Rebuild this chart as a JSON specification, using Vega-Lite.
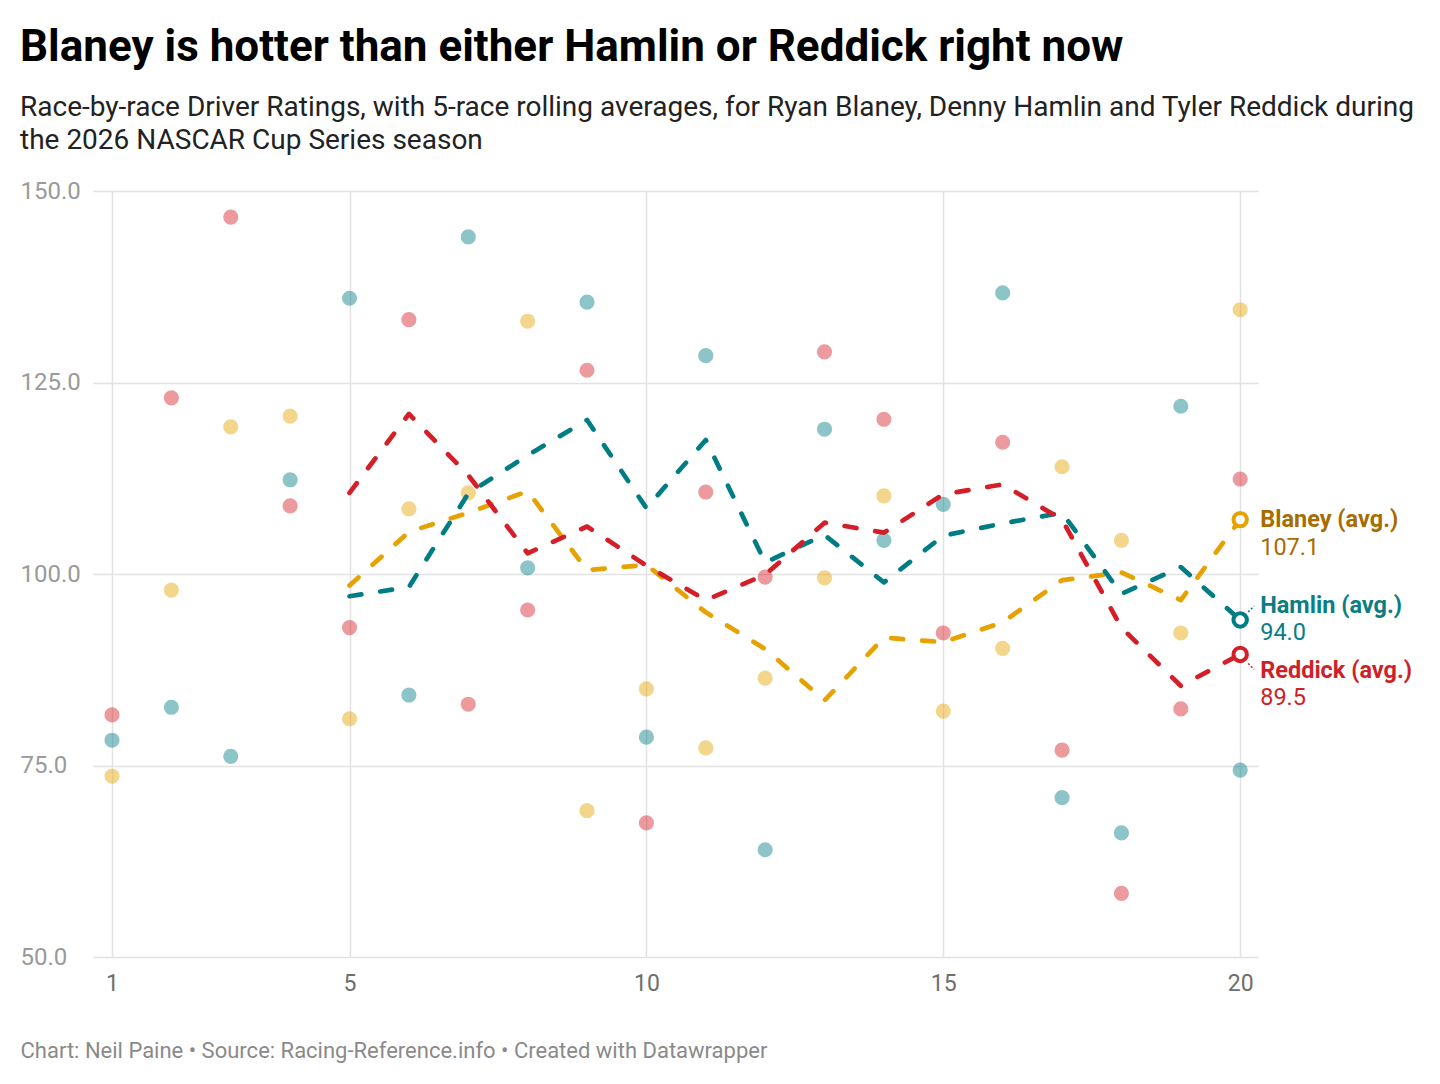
{
  "$schema": "https://vega.github.io/schema/vega-lite/v6.json",
  "width": 1165,
  "height": 766,
  "autosize": {"type": "none"},
  "padding": {"left": 93, "top": 191, "right": 182, "bottom": 127},
  "background": "#ffffff",
  "config": {
    "font": "Roboto",
    "view": {"stroke": null}
  },
  "title": {
    "text": "Blaney is hotter than either Hamlin or Reddick right now",
    "subtitle": [
      "Race-by-race Driver Ratings, with 5-race rolling averages, for Ryan Blaney, Denny Hamlin and Tyler Reddick during",
      "the 2026 NASCAR Cup Series season"
    ],
    "anchor": "start",
    "frame": "group",
    "dx": -73,
    "offset": 24,
    "font": "Roboto",
    "fontSize": 44,
    "fontWeight": "bold",
    "color": "#000000",
    "subtitleFont": "Roboto",
    "subtitleFontSize": 28,
    "subtitleColor": "#222222",
    "subtitleLineHeight": 33,
    "subtitlePadding": 24
  },
  "datasets": {
    "ratings": [
      {"race": 1, "driver": "Blaney", "rating": 73.6},
      {"race": 2, "driver": "Blaney", "rating": 97.9},
      {"race": 3, "driver": "Blaney", "rating": 119.2},
      {"race": 4, "driver": "Blaney", "rating": 120.6},
      {"race": 5, "driver": "Blaney", "rating": 81.1},
      {"race": 6, "driver": "Blaney", "rating": 108.5},
      {"race": 7, "driver": "Blaney", "rating": 110.6},
      {"race": 8, "driver": "Blaney", "rating": 133.0},
      {"race": 9, "driver": "Blaney", "rating": 69.1},
      {"race": 10, "driver": "Blaney", "rating": 85.0},
      {"race": 11, "driver": "Blaney", "rating": 77.3},
      {"race": 12, "driver": "Blaney", "rating": 86.4},
      {"race": 13, "driver": "Blaney", "rating": 99.5},
      {"race": 14, "driver": "Blaney", "rating": 110.2},
      {"race": 15, "driver": "Blaney", "rating": 82.1},
      {"race": 16, "driver": "Blaney", "rating": 90.3},
      {"race": 17, "driver": "Blaney", "rating": 114.0},
      {"race": 18, "driver": "Blaney", "rating": 104.4},
      {"race": 19, "driver": "Blaney", "rating": 92.3},
      {"race": 20, "driver": "Blaney", "rating": 134.5},
      {"race": 1, "driver": "Hamlin", "rating": 78.3},
      {"race": 2, "driver": "Hamlin", "rating": 82.6},
      {"race": 3, "driver": "Hamlin", "rating": 76.2},
      {"race": 4, "driver": "Hamlin", "rating": 112.3},
      {"race": 5, "driver": "Hamlin", "rating": 136.0},
      {"race": 6, "driver": "Hamlin", "rating": 84.2},
      {"race": 7, "driver": "Hamlin", "rating": 144.0},
      {"race": 8, "driver": "Hamlin", "rating": 100.8},
      {"race": 9, "driver": "Hamlin", "rating": 135.5},
      {"race": 10, "driver": "Hamlin", "rating": 78.7},
      {"race": 11, "driver": "Hamlin", "rating": 128.5},
      {"race": 12, "driver": "Hamlin", "rating": 64.0},
      {"race": 13, "driver": "Hamlin", "rating": 118.9},
      {"race": 14, "driver": "Hamlin", "rating": 104.4},
      {"race": 15, "driver": "Hamlin", "rating": 109.1},
      {"race": 16, "driver": "Hamlin", "rating": 136.7},
      {"race": 17, "driver": "Hamlin", "rating": 70.8},
      {"race": 18, "driver": "Hamlin", "rating": 66.2},
      {"race": 19, "driver": "Hamlin", "rating": 121.9},
      {"race": 20, "driver": "Hamlin", "rating": 74.4},
      {"race": 1, "driver": "Reddick", "rating": 81.6},
      {"race": 2, "driver": "Reddick", "rating": 123.0},
      {"race": 3, "driver": "Reddick", "rating": 146.6},
      {"race": 4, "driver": "Reddick", "rating": 108.9},
      {"race": 5, "driver": "Reddick", "rating": 93.0},
      {"race": 6, "driver": "Reddick", "rating": 133.2},
      {"race": 7, "driver": "Reddick", "rating": 83.0},
      {"race": 8, "driver": "Reddick", "rating": 95.3},
      {"race": 9, "driver": "Reddick", "rating": 126.6},
      {"race": 10, "driver": "Reddick", "rating": 67.5},
      {"race": 11, "driver": "Reddick", "rating": 110.7},
      {"race": 12, "driver": "Reddick", "rating": 99.6},
      {"race": 13, "driver": "Reddick", "rating": 129.0},
      {"race": 14, "driver": "Reddick", "rating": 120.2},
      {"race": 15, "driver": "Reddick", "rating": 92.3},
      {"race": 16, "driver": "Reddick", "rating": 117.2},
      {"race": 17, "driver": "Reddick", "rating": 77.0},
      {"race": 18, "driver": "Reddick", "rating": 58.3},
      {"race": 19, "driver": "Reddick", "rating": 82.4},
      {"race": 20, "driver": "Reddick", "rating": 112.4}
    ],
    "avg": [
      {"race": 5, "driver": "Blaney", "avg": 98.5},
      {"race": 6, "driver": "Blaney", "avg": 105.5},
      {"race": 7, "driver": "Blaney", "avg": 108.0},
      {"race": 8, "driver": "Blaney", "avg": 110.8},
      {"race": 9, "driver": "Blaney", "avg": 100.5},
      {"race": 10, "driver": "Blaney", "avg": 101.2},
      {"race": 11, "driver": "Blaney", "avg": 95.0},
      {"race": 12, "driver": "Blaney", "avg": 90.2},
      {"race": 13, "driver": "Blaney", "avg": 83.5},
      {"race": 14, "driver": "Blaney", "avg": 91.7},
      {"race": 15, "driver": "Blaney", "avg": 91.1},
      {"race": 16, "driver": "Blaney", "avg": 93.7},
      {"race": 17, "driver": "Blaney", "avg": 99.2},
      {"race": 18, "driver": "Blaney", "avg": 100.2},
      {"race": 19, "driver": "Blaney", "avg": 96.6},
      {"race": 20, "driver": "Blaney", "avg": 107.1},
      {"race": 5, "driver": "Hamlin", "avg": 97.1},
      {"race": 6, "driver": "Hamlin", "avg": 98.3},
      {"race": 7, "driver": "Hamlin", "avg": 110.5},
      {"race": 8, "driver": "Hamlin", "avg": 115.5},
      {"race": 9, "driver": "Hamlin", "avg": 120.1},
      {"race": 10, "driver": "Hamlin", "avg": 108.6},
      {"race": 11, "driver": "Hamlin", "avg": 117.5},
      {"race": 12, "driver": "Hamlin", "avg": 101.5},
      {"race": 13, "driver": "Hamlin", "avg": 105.1},
      {"race": 14, "driver": "Hamlin", "avg": 98.9},
      {"race": 15, "driver": "Hamlin", "avg": 105.0},
      {"race": 16, "driver": "Hamlin", "avg": 106.6},
      {"race": 17, "driver": "Hamlin", "avg": 108.0},
      {"race": 18, "driver": "Hamlin", "avg": 97.4},
      {"race": 19, "driver": "Hamlin", "avg": 100.9},
      {"race": 20, "driver": "Hamlin", "avg": 94.0},
      {"race": 5, "driver": "Reddick", "avg": 110.6},
      {"race": 6, "driver": "Reddick", "avg": 120.9},
      {"race": 7, "driver": "Reddick", "avg": 112.9},
      {"race": 8, "driver": "Reddick", "avg": 102.7},
      {"race": 9, "driver": "Reddick", "avg": 106.2},
      {"race": 10, "driver": "Reddick", "avg": 101.1},
      {"race": 11, "driver": "Reddick", "avg": 96.6},
      {"race": 12, "driver": "Reddick", "avg": 99.9},
      {"race": 13, "driver": "Reddick", "avg": 106.7},
      {"race": 14, "driver": "Reddick", "avg": 105.4},
      {"race": 15, "driver": "Reddick", "avg": 110.4},
      {"race": 16, "driver": "Reddick", "avg": 111.7},
      {"race": 17, "driver": "Reddick", "avg": 107.1},
      {"race": 18, "driver": "Reddick", "avg": 93.0},
      {"race": 19, "driver": "Reddick", "avg": 85.4},
      {"race": 20, "driver": "Reddick", "avg": 89.5}
    ]
  },
  "encoding": {
    "x": {
      "field": "race",
      "type": "quantitative",
      "scale": {"domain": [0.68, 20.3], "nice": false, "zero": false},
      "axis": {
        "values": [1, 5, 10, 15, 20],
        "format": "d",
        "grid": true,
        "gridColor": "#e2e2e2",
        "gridWidth": 1.5,
        "domain": false,
        "ticks": false,
        "tickSize": 0,
        "labelPadding": 15,
        "labelFont": "Roboto",
        "labelFontSize": 23,
        "labelColor": "#6e6e6e",
        "title": "Chart: Neil Paine • Source: Racing-Reference.info • Created with Datawrapper",
        "titleFont": "Roboto",
        "titleFontSize": 22,
        "titleFontWeight": "normal",
        "titleColor": "#8a8a8a",
        "titleAlign": "left",
        "titleBaseline": "middle",
        "titleAnchor": "start",
        "titleX": -73,
        "titleY": 93
      }
    },
    "color": {
      "field": "driver",
      "type": "nominal",
      "scale": {
        "domain": ["Blaney", "Hamlin", "Reddick"],
        "range": ["#e5a200", "#007d84", "#d51e28"]
      },
      "legend": null
    }
  },
  "layer": [
    {
      "data": {"name": "ratings"},
      "mark": {"type": "circle", "size": 230, "opacity": 0.45},
      "encoding": {
        "y": {
          "field": "rating",
          "type": "quantitative",
          "scale": {"domain": [50, 150], "nice": false, "zero": false},
          "axis": {
            "values": [50, 75, 100, 125, 150],
            "format": ".1f",
            "grid": true,
            "gridColor": "#e2e2e2",
            "gridWidth": 1.5,
            "domain": false,
            "ticks": false,
            "tickSize": 0,
            "labelAlign": "left",
            "labelBaseline": "middle",
            "labelPadding": 73,
            "labelFont": "Roboto",
            "labelFontSize": 24,
            "labelColor": "#9a9a9a",
            "title": null
          }
        }
      }
    },
    {
      "data": {"name": "avg"},
      "mark": {
        "type": "line",
        "strokeWidth": 4.7,
        "strokeDash": [12, 19],
        "strokeCap": "round",
        "strokeJoin": "round"
      },
      "encoding": {
        "y": {"field": "avg", "type": "quantitative"},
        "order": {"field": "race"}
      }
    },
    {
      "data": {"name": "avg"},
      "transform": [{"filter": "datum.race === 20"}],
      "mark": {"type": "circle", "size": 180, "opacity": 1, "fill": "#ffffff", "strokeWidth": 4},
      "encoding": {
        "y": {"field": "avg", "type": "quantitative"},
        "stroke": {
          "field": "driver",
          "type": "nominal",
          "scale": {
            "domain": ["Blaney", "Hamlin", "Reddick"],
            "range": ["#e5a200", "#007d84", "#d51e28"]
          },
          "legend": null
        }
      }
    },
    {
      "data": {"name": "avg"},
      "transform": [{"filter": "datum.race === 20 && datum.driver === 'Hamlin'"}],
      "mark": {"type": "rule", "strokeWidth": 1.5, "strokeDash": [2, 2], "xOffset": 8, "yOffset": -8, "x2Offset": 14, "y2Offset": -14},
      "encoding": {
        "y": {"field": "avg", "type": "quantitative"},
        "x2": {"field": "race"},
        "y2": {"field": "avg"}
      }
    },
    {
      "data": {"name": "avg"},
      "transform": [{"filter": "datum.race === 20 && datum.driver === 'Reddick'"}],
      "mark": {"type": "rule", "strokeWidth": 1.5, "strokeDash": [2, 2], "xOffset": 8, "yOffset": 9, "x2Offset": 14, "y2Offset": 15},
      "encoding": {
        "y": {"field": "avg", "type": "quantitative"},
        "x2": {"field": "race"},
        "y2": {"field": "avg"}
      }
    },
    {
      "data": {"name": "avg"},
      "transform": [{"filter": "datum.race === 20 && datum.driver === 'Blaney'"}],
      "mark": {"type": "text", "text": "Blaney (avg.)", "align": "left", "baseline": "middle", "dx": 20, "dy": 0, "font": "Roboto", "fontSize": 23.5, "fontWeight": "bold"},
      "encoding": {
        "y": {"field": "avg", "type": "quantitative"},
        "color": {"value": "#a86c00"}
      }
    },
    {
      "data": {"name": "avg"},
      "transform": [{"filter": "datum.race === 20 && datum.driver === 'Blaney'"}],
      "mark": {"type": "text", "align": "left", "baseline": "middle", "dx": 20, "dy": 28, "font": "Roboto", "fontSize": 23.5},
      "encoding": {
        "y": {"field": "avg", "type": "quantitative"},
        "text": {"field": "avg", "type": "quantitative", "format": ".1f"},
        "color": {"value": "#a86c00"}
      }
    },
    {
      "data": {"name": "avg"},
      "transform": [{"filter": "datum.race === 20 && datum.driver === 'Hamlin'"}],
      "mark": {"type": "text", "text": "Hamlin (avg.)", "align": "left", "baseline": "middle", "dx": 20, "dy": -14, "font": "Roboto", "fontSize": 23.5, "fontWeight": "bold"},
      "encoding": {
        "y": {"field": "avg", "type": "quantitative"},
        "color": {"value": "#0b7d84"}
      }
    },
    {
      "data": {"name": "avg"},
      "transform": [{"filter": "datum.race === 20 && datum.driver === 'Hamlin'"}],
      "mark": {"type": "text", "align": "left", "baseline": "middle", "dx": 20, "dy": 13, "font": "Roboto", "fontSize": 23.5},
      "encoding": {
        "y": {"field": "avg", "type": "quantitative"},
        "text": {"field": "avg", "type": "quantitative", "format": ".1f"},
        "color": {"value": "#0b7d84"}
      }
    },
    {
      "data": {"name": "avg"},
      "transform": [{"filter": "datum.race === 20 && datum.driver === 'Reddick'"}],
      "mark": {"type": "text", "text": "Reddick (avg.)", "align": "left", "baseline": "middle", "dx": 20, "dy": 17, "font": "Roboto", "fontSize": 23.5, "fontWeight": "bold"},
      "encoding": {
        "y": {"field": "avg", "type": "quantitative"},
        "color": {"value": "#cf1f28"}
      }
    },
    {
      "data": {"name": "avg"},
      "transform": [{"filter": "datum.race === 20 && datum.driver === 'Reddick'"}],
      "mark": {"type": "text", "align": "left", "baseline": "middle", "dx": 20, "dy": 44, "font": "Roboto", "fontSize": 23.5},
      "encoding": {
        "y": {"field": "avg", "type": "quantitative"},
        "text": {"field": "avg", "type": "quantitative", "format": ".1f"},
        "color": {"value": "#cf1f28"}
      }
    }
  ]
}
